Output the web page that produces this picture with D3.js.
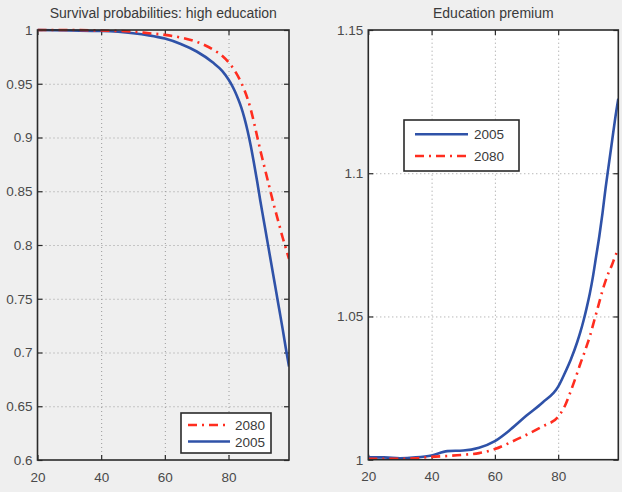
<!DOCTYPE html>
<html>
<head>
<meta charset="utf-8">
<script src="https://cdn.jsdelivr.net/npm/d3@7"></script>
<style>
  html, body { margin: 0; padding: 0; background: #efefef; }
  svg { display: block; }
  text { font-family: "Liberation Sans", Arial, sans-serif; }
</style>
</head>
<body>
<svg id="chart" width="622" height="492"></svg>
<script>
// ---------- data ----------
const survAges = [20,30,40,50,55,60,65,70,75,78,80,81,82,83,84,85,86,87,88,89,90,91,92,93,94,95,96,97,98,99];
const surv2005 = [1.0,0.9995,0.999,0.997,0.995,0.992,0.987,0.980,0.970,0.962,0.954,0.949,0.943,0.936,0.928,0.918,0.906,0.892,0.876,0.859,0.841,0.824,0.807,0.790,0.773,0.756,0.739,0.722,0.704,0.687];
const surv2080Ages = [20,30,40,50,55,60,65,70,75,78,80,82,84,86,87,88,89,90,91,92,93,94,95,96,97,98,99];
const surv2080 = [1.0,1.0,0.9995,0.9985,0.997,0.9955,0.993,0.989,0.982,0.976,0.970,0.962,0.951,0.936,0.926,0.914,0.901,0.888,0.876,0.864,0.852,0.840,0.829,0.818,0.807,0.797,0.787];

const premAges = [20,25,30,35,40,45,50,55,60,65,70,75,80,82,84,86,87,88,89,90,91,92,93,94,95,96,97,98,99];
const prem2005 = [1.0008,1.0008,1.0005,1.0008,1.0015,1.003,1.0032,1.0042,1.0065,1.0106,1.0154,1.0199,1.0255,1.030,1.035,1.041,1.0445,1.0485,1.053,1.058,1.064,1.071,1.078,1.086,1.095,1.103,1.111,1.119,1.126];
const prem2080 = [1.0003,1.0003,1.0003,1.0005,1.001,1.0013,1.0017,1.0023,1.0037,1.0061,1.0087,1.0116,1.015,1.0185,1.024,1.0302,1.0335,1.0365,1.0397,1.043,1.047,1.051,1.055,1.059,1.0625,1.0655,1.068,1.071,1.0735];

const xTicks = [20,40,60,80];
const survTicks = [0.6,0.65,0.7,0.75,0.8,0.85,0.9,0.95,1];
const survTickLabels = ["0.6","0.65","0.7","0.75","0.8","0.85","0.9","0.95","1"];
const premTicks = [1,1.05,1.1,1.15];
const premTickLabels = ["1","1.05","1.1","1.15"];

const titles = ["Survival probabilities: high education", "Education premium"];
const seriesNames = ["2005", "2080"];

// ---------- styles ----------
const BLUE = "#2f52a8";
const RED = "#ff2d1f";
const DASHDOT = "9,5,2,5";

const svg = d3.select("#chart");

function panel(opts) {
  const {x0, x1, yTop, yBot, yDomain, yTicks, yLabels, title, fill, series, legend} = opts;
  const x = d3.scaleLinear().domain([20, 99]).range([x0, x1]);
  const y = d3.scaleLinear().domain(yDomain).range([yBot, yTop]);
  const g = svg.append("g");
  const w = x1 - x0, h = yBot - yTop;

  if (fill) g.append("rect").attr("x", x0).attr("y", yTop).attr("width", w).attr("height", h).attr("fill", fill);

  // gridlines
  const gx = g.append("g").attr("transform", `translate(0,${yBot})`)
    .call(d3.axisBottom(x).tickValues(xTicks.filter(v => v > 20)).tickSize(-h).tickFormat(""));
  const gy = g.append("g").attr("transform", `translate(${x0},0)`)
    .call(d3.axisLeft(y).tickValues(yTicks.slice(1, -1)).tickSize(-w).tickFormat(""));
  [gx, gy].forEach(a => {
    a.select(".domain").remove();
    a.selectAll("line").attr("stroke", "#9a9a9a").attr("stroke-width", 1).attr("stroke-dasharray", "1,3");
  });

  // inward ticks on all four sides
  const tk = 5;
  const ticks = [
    [d3.axisBottom(x).tickValues(xTicks).tickSize(-tk), `translate(0,${yBot})`],
    [d3.axisTop(x).tickValues(xTicks).tickSize(-tk), `translate(0,${yTop})`],
    [d3.axisLeft(y).tickValues(yTicks).tickSize(-tk), `translate(${x0},0)`],
    [d3.axisRight(y).tickValues(yTicks).tickSize(-tk), `translate(${x1},0)`]
  ];
  ticks.forEach(([ax, tr]) => {
    const a = g.append("g").attr("transform", tr).call(ax.tickFormat(""));
    a.select(".domain").remove();
    a.selectAll("line").attr("stroke", "#2a2a2a").attr("stroke-width", 1.2);
  });

  // lines
  const clipId = "clip" + Math.round(x0);
  g.append("clipPath").attr("id", clipId).append("rect")
    .attr("x", x0).attr("y", yTop - 2).attr("width", w).attr("height", h + 2);
  const line = d3.line().curve(d3.curveMonotoneX).x(d => x(d[0])).y(d => y(d[1]));
  series.forEach(s => {
    g.append("path")
      .attr("clip-path", `url(#${clipId})`)
      .attr("d", line(s.ages.map((a, i) => [a, s.vals[i]])))
      .attr("fill", "none").attr("stroke", s.color).attr("stroke-width", 2.6)
      .attr("stroke-dasharray", s.dash || null)
      .attr("stroke-linejoin", "round");
  });

  // box
  g.append("rect").attr("x", x0).attr("y", yTop).attr("width", w).attr("height", h)
    .attr("fill", "none").attr("stroke", "#2a2a2a").attr("stroke-width", 1.6);

  // tick labels
  const lx = g.append("g").attr("transform", `translate(0,${yBot})`)
    .call(d3.axisBottom(x).tickValues(xTicks).tickSize(0).tickPadding(12).tickFormat(d3.format("d")));
  const ly = g.append("g").attr("transform", `translate(${x0},0)`)
    .call(d3.axisLeft(y).tickValues(yTicks).tickSize(0).tickPadding(5).tickFormat((d, i) => yLabels[i]));
  [lx, ly].forEach(a => {
    a.select(".domain").remove();
    a.selectAll("text").attr("fill", "#4a4a4a").style("font-size", "13.5px")
      .style("font-family", '"Liberation Sans", Arial, sans-serif');
  });

  // title
  g.append("text").attr("x", (x0 + x1) / 2).attr("y", 17.5).attr("text-anchor", "middle")
    .attr("fill", "#3a3a3a").style("font-size", "14px").text(title);

  // legend
  const L = legend;
  g.append("rect").attr("x", L.x).attr("y", L.y).attr("width", L.w).attr("height", L.h)
    .attr("fill", "#ffffff").attr("stroke", "#2a2a2a").attr("stroke-width", 1.6);
  L.items.forEach((it, i) => {
    const yy = L.y + L.first + i * L.step;
    g.append("line").attr("x1", L.x + L.lx0).attr("x2", L.x + L.lx1).attr("y1", yy).attr("y2", yy)
      .attr("stroke", it.color).attr("stroke-width", 2.6).attr("stroke-dasharray", it.dash || null);
    g.append("text").attr("x", L.x + L.tx).attr("y", yy + 5).attr("fill", "#3a3a3a")
      .style("font-size", "13.5px").text(it.name);
  });
}

panel({
  x0: 37.5, x1: 289, yTop: 30, yBot: 460,
  yDomain: [0.6, 1], yTicks: survTicks, yLabels: survTickLabels,
  title: titles[0], fill: null,
  series: [
    {ages: survAges, vals: surv2005, color: BLUE},
    {ages: surv2080Ages, vals: surv2080, color: RED, dash: DASHDOT}
  ],
  legend: {x: 181, y: 413, w: 90, h: 40, first: 12, step: 16.5, lx0: 7, lx1: 49, tx: 54,
    items: [{name: seriesNames[1], color: RED, dash: DASHDOT}, {name: seriesNames[0], color: BLUE}]}
});

panel({
  x0: 368.3, x1: 618.3, yTop: 30, yBot: 459.7,
  yDomain: [1, 1.15], yTicks: premTicks, yLabels: premTickLabels,
  title: titles[1], fill: "#ffffff",
  series: [
    {ages: premAges, vals: prem2005, color: BLUE},
    {ages: premAges, vals: prem2080, color: RED, dash: DASHDOT}
  ],
  legend: {x: 404, y: 120, w: 115, h: 51, first: 14.3, step: 21.7, lx0: 11, lx1: 64, tx: 70,
    items: [{name: seriesNames[0], color: BLUE}, {name: seriesNames[1], color: RED, dash: DASHDOT}]}
});
</script>
</body>
</html>
